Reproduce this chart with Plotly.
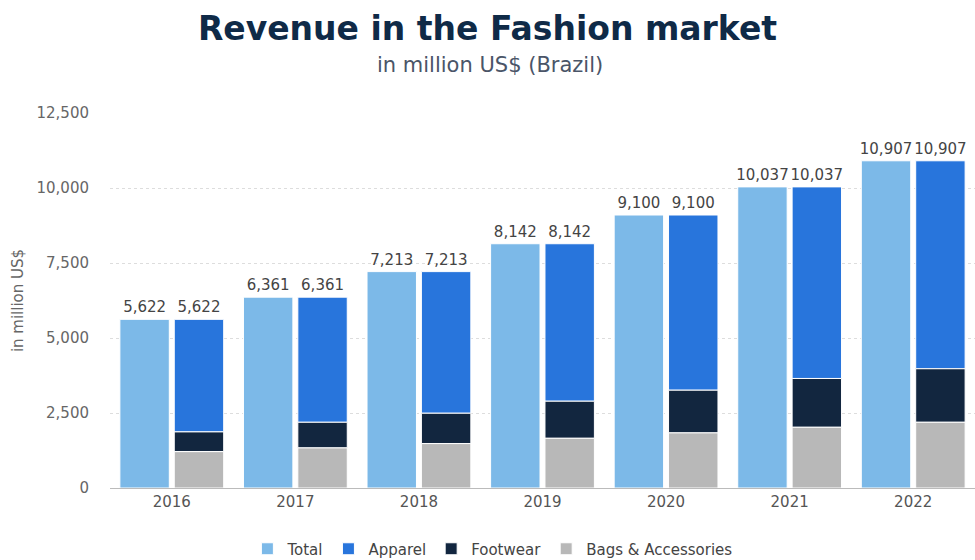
import plotly.graph_objects as go

# Revenue in the Fashion market, Brazil (million US$)
years = ["2016", "2017", "2018", "2019", "2020", "2021", "2022"]
total = [5622, 6361, 7213, 8142, 9100, 10037, 10907]
apparel = [3752, 4170, 4721, 5249, 5840, 6386, 6932]
footwear = [658, 855, 1012, 1236, 1423, 1627, 1784]
bags = [1212, 1336, 1480, 1657, 1837, 2024, 2191]

C_TOTAL = "#7cb9e8"
C_APPAREL = "#2875dc"
C_FOOT = "#12263f"
C_BAGS = "#b8b8b8"
FONT = "DejaVu Sans"

W = 0.40
line = dict(color="white", width=1)
fmt = lambda v: f"{v:,}"
label_font = dict(size=15, color="#444444", family=FONT)

fig = go.Figure()

fig.add_trace(go.Bar(
    x=years, y=total, name="Total", width=W, offset=-0.42,
    marker=dict(color=C_TOTAL, line=line),
    text=[fmt(v) for v in total], textposition="outside",
    textfont=label_font, constraintext="none",
    cliponaxis=False,
))

# stacked segments: bags at the bottom, footwear, then apparel on top
base_foot = bags
base_app = [b + f for b, f in zip(bags, footwear)]
stack_top = [b + a for b, a in zip(base_app, apparel)]

fig.add_trace(go.Bar(
    x=years, y=apparel, base=base_app, name="Apparel", width=W, offset=0.02,
    marker=dict(color=C_APPAREL, line=line),
    text=[fmt(v) for v in stack_top], textposition="outside",
    textfont=label_font, constraintext="none",
    cliponaxis=False,
))
fig.add_trace(go.Bar(
    x=years, y=footwear, base=base_foot, name="Footwear", width=W, offset=0.02,
    marker=dict(color=C_FOOT, line=line),
))
fig.add_trace(go.Bar(
    x=years, y=bags, name="Bags & Accessories", width=W, offset=0.02,
    marker=dict(color=C_BAGS, line=line),
))

fig.update_layout(
    width=975, height=560,
    margin=dict(l=110, r=0, t=113, b=72, autoexpand=False),
    paper_bgcolor="white", plot_bgcolor="white",
    font=dict(family=FONT, color="#666666"),
    barmode="overlay",
    showlegend=True,
    legend=dict(
        orientation="h", xref="container", x=0.505, xanchor="center",
        yref="container", y=1 - 549 / 560, yanchor="middle",
        font=dict(size=15, color="#444444", family=FONT),
        traceorder="normal", itemwidth=30,
    ),
    title=dict(
        text="<b>Revenue in the Fashion market</b>",
        x=0.5, xanchor="center", y=1 - 28 / 560, yanchor="middle",
        font=dict(size=33, color="#0f2a47", family=FONT),
    ),
    annotations=[dict(
        text="in million US$ (Brazil)", xref="paper", yref="paper",
        x=(490 - 110) / 865, xanchor="center",
        y=1 + (113 - 65) / 375, yanchor="middle",
        showarrow=False, font=dict(size=21, color="#4a5568", family=FONT),
    )],
)

fig.update_xaxes(
    type="category", range=[-0.5, 6.5],
    showgrid=False, showline=True, linecolor="#bbbbbb", linewidth=1,
    ticks="", tickfont=dict(size=15, color="#555555"),
)
fig.update_yaxes(
    range=[0, 12500], tickvals=[0, 2500, 5000, 7500, 10000, 12500],
    tickformat=",", showgrid=True, gridcolor="#dddddd", griddash="dot",
    gridwidth=1, zeroline=False, showline=False,
    tickfont=dict(size=15, color="#666666"), ticklabelstandoff=20,
    title=dict(text="in million US$", font=dict(size=15, color="#666666"),
               standoff=9),
)

fig.write_html("out.html")
